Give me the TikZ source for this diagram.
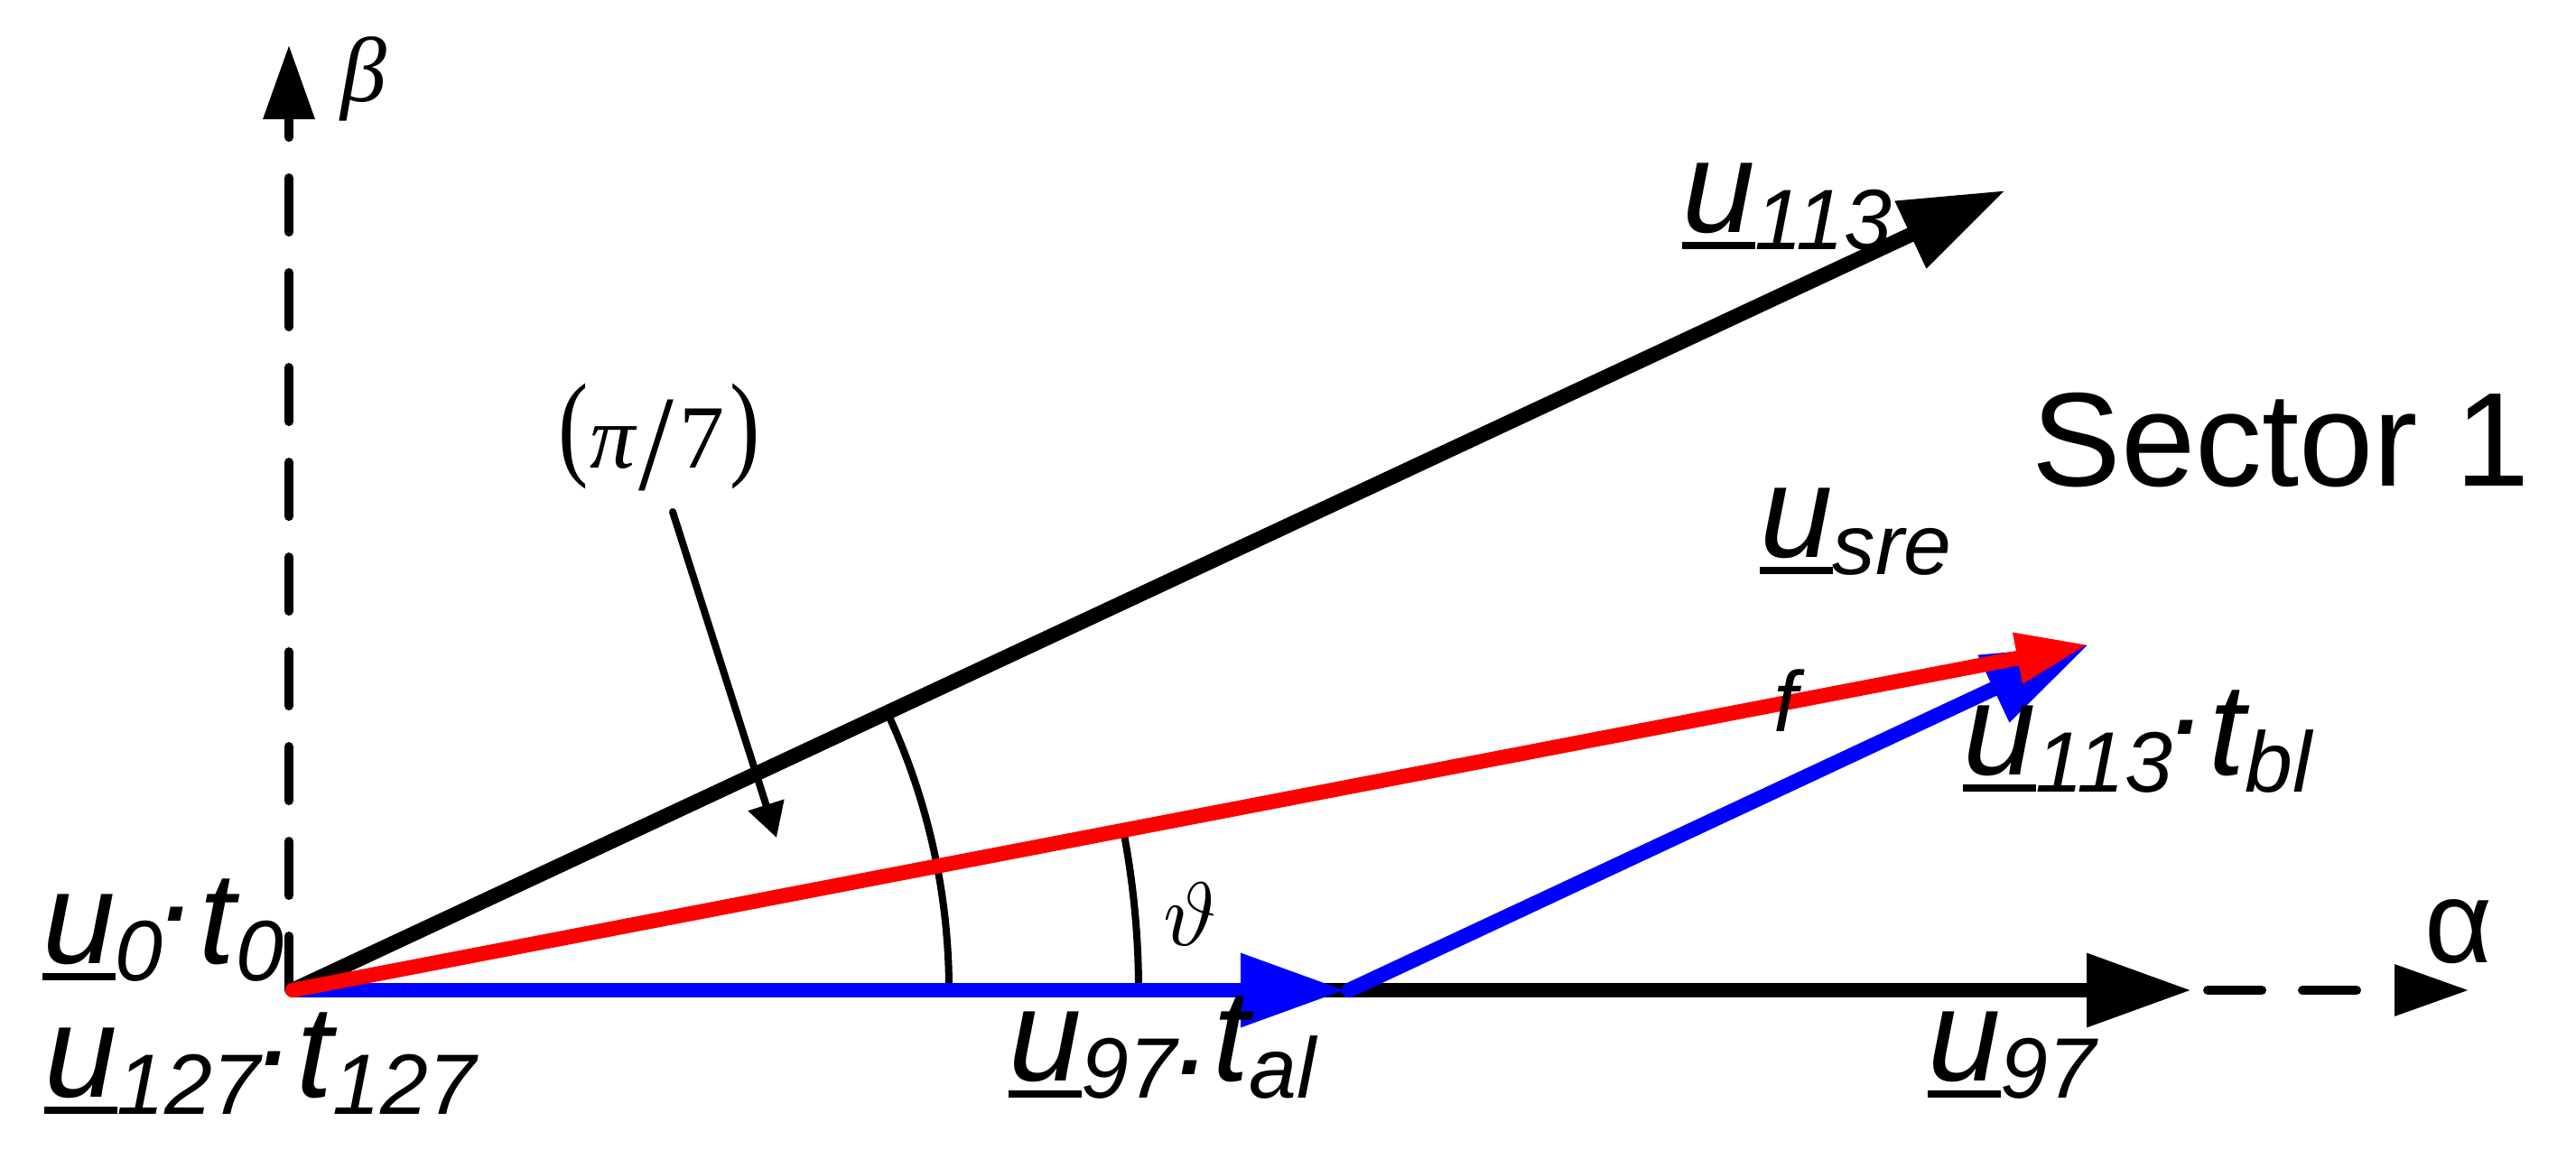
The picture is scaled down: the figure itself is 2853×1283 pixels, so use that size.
\documentclass[tikz,border=0pt]{standalone}
\usepackage[no-math]{fontspec}
\setmainfont{Liberation Sans}
\newfontfamily\serifgr{Liberation Serif}
\usetikzlibrary{arrows.meta}
\definecolor{vblue}{RGB}{0,0,255}
\definecolor{vred}{RGB}{255,0,0}
\newcommand{\uu}{\setbox0\hbox{\itshape u}\rlap{\rule[-1.9pt]{\wd0}{0.85pt}}\box0}
\newcommand{\subx}[1]{\raisebox{-1.9pt}{\fontsize{9.5}{10}\selectfont\itshape #1}}
\newcommand{\hdot}[1]{\raisebox{#1}{\itshape .}}
\begin{document}
\begin{tikzpicture}[x=0.1pt,y=-0.1pt,
  vec/.style={line width=1.65pt, -{Triangle[length=11.6pt,width=7.8pt]}},
  axisline/.style={line width=1pt, line cap=round, dash pattern=on 6pt off 4.5pt, -{Triangle[length=8.2pt,width=5.5pt]}},
  thinline/.style={line width=0.8pt},
  lbl/.style={inner sep=0pt, anchor=base west, font=\fontsize{14.5}{16}\selectfont\itshape},
  sym/.style={inner sep=0pt}]
\useasboundingbox (0,0) rectangle (2853,1283);
\coordinate (O) at (324,1097);
\coordinate (Bb) at (320,1097);
\coordinate (Bt) at (320,50);
\coordinate (As) at (2445,1097);
\coordinate (At) at (2734,1097);
\coordinate (T113) at (2221,211);
\coordinate (T97) at (2427,1097);
\coordinate (TA) at (1490,1097);
\coordinate (TB) at (1494,1097);
\coordinate (TS) at (2313,714);
\coordinate (Ps) at (745,567);
\coordinate (Pe) at (860,928);
% axes
\draw[axisline] (Bb) -- (Bt);
\draw[axisline] (As) -- (At);
% angle arcs
\draw[thinline] (O) ++(727,0) arc[start angle=0,end angle=-25.04,radius=727];
\draw[thinline] (O) ++(937,0) arc[start angle=0,end angle=-10.9,radius=937];
% pointer
\draw[thinline, line cap=round, -{Triangle[length=3.8pt,width=4pt]}] (Ps) -- (Pe);
% vectors
\draw[vec] (O) -- (T113);
\draw[vec] (O) -- (T97);
\draw[vec, vblue] (O) -- (TA);
\draw[vec, vblue, line cap=round] (TB) -- (TS);
\draw[vred, line width=1.65pt, line cap=round, -{Triangle[length=8pt,width=5.3pt]}] (O) -- (TS);
% labels
\node[lbl] (l0) at (45,1067) {\uu\subx{0}\hdot{4.7pt}t\subx{0}};
\node[lbl] (l127) at (47,1215) {\uu\subx{127}\hdot{3.5pt}t\subx{127}};
\node[lbl] (l97a) at (1115,1197) {\uu\subx{97}\hdot{0.7pt}t\subx{al}};
\node[lbl] (l97) at (2133,1197) {\uu\subx{97}};
\node[lbl] (l113) at (1861,257) {\uu\subx{113}};
\node[lbl] (lsre) at (1947,617) {\uu\subx{sre}};
\node[lbl] (l113b) at (2172,858) {\uu\subx{113}\hdot{4.5pt}t\subx{bl}};
\node[sym, anchor=base, font=\fontsize{14.8}{16}\selectfont] (sec) at (2526,538) {Sector 1};
\node[sym, anchor=base, font=\serifgr\fontsize{10.2}{12}\selectfont\itshape] (beta) at (403,112) {β};
\node[sym, anchor=base, font=\fontsize{13}{14}\selectfont] (alpha) at (2723,1066) {α};
\node[sym, font=\fontsize{10.3}{12}\selectfont] (theta) at (1318,1013) {$\vartheta$};
\node[sym, anchor=base, font=\fontsize{9.5}{10}\selectfont\itshape] (f) at (1978,810) {f};
\node[sym, anchor=base, font=\serifgr\fontsize{10}{11}\selectfont] (pi) at (730,518)
  {\raisebox{0.4pt}{\scalebox{1}[1.29]{(}}\kern0.2pt\textit{π}\kern0.2pt\raisebox{-2.4pt}{\scalebox{1.4}[1.51]{/}}\kern0.6pt7\kern0.6pt\raisebox{0.4pt}{\scalebox{1}[1.29]{)}}};
\end{tikzpicture}
\end{document}
